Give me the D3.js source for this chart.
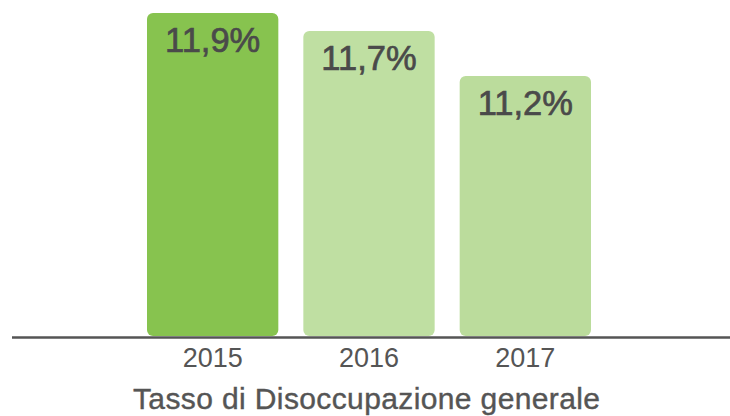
<!DOCTYPE html>
<html>
<head>
<meta charset="utf-8">
<script src="https://cdn.jsdelivr.net/npm/d3@7"></script>
<style>
  html, body { margin: 0; padding: 0; background: #ffffff; }
  svg { display: block; }
  text { font-family: "Liberation Sans", Arial, Helvetica, sans-serif; }
</style>
</head>
<body>
<svg id="chart" width="730" height="416"></svg>
<script>
const years = ["2015", "2016", "2017"];
const values = [11.9, 11.7, 11.2];
const valueLabels = ["11,9%", "11,7%", "11,2%"];
const barColors = ["#87c34f", "#bfdfa2", "#bbdc9c"];
const title = "Tasso di Disoccupazione generale";

const svg = d3.select("#chart");
const W = 730, H = 416;
const baseY = 336;

const x = d3.scaleBand().domain(years).range([147, 591]).paddingInner(0.16).paddingOuter(0);
const y = d3.scaleLinear().domain([8.31, 12.044]).range([baseY, 0]);

const data = years.map((yr, i) => ({ yr, v: values[i], label: valueLabels[i], color: barColors[i] }));

svg.append("g").selectAll("rect").data(data).join("rect")
  .attr("x", d => x(d.yr))
  .attr("y", d => y(d.v))
  .attr("width", x.bandwidth())
  .attr("height", d => baseY - y(d.v))
  .attr("rx", 6).attr("ry", 6)
  .attr("fill", d => d.color);

svg.append("g").selectAll("text").data(data).join("text")
  .attr("x", d => x(d.yr) + x.bandwidth() / 2)
  .attr("y", d => y(d.v) + 39)
  .attr("text-anchor", "middle")
  .attr("font-size", 34.5)
  .attr("fill", "#4a4a4a")
  .attr("stroke", "#4a4a4a")
  .attr("stroke-width", 0.7)
  .text(d => d.label);

// baseline
svg.append("line")
  .attr("x1", 12).attr("x2", W)
  .attr("y1", baseY + 1.5).attr("y2", baseY + 1.5)
  .attr("stroke", "#555555").attr("stroke-width", 2.5);

// x axis labels
const axis = d3.axisBottom(x).tickSize(0).tickPadding(0);
const gAxis = svg.append("g").attr("transform", `translate(0,${baseY})`).call(axis);
gAxis.select(".domain").remove();
gAxis.selectAll("text")
  .attr("y", 31).attr("dy", null)
  .attr("font-size", 27)
  .attr("font-family", "\"Liberation Sans\", Arial, sans-serif")
  .attr("fill", "#555555");

svg.append("text")
  .attr("x", 366.5).attr("y", 409)
  .attr("text-anchor", "middle")
  .attr("font-size", 30)
  .attr("fill", "#555555")
  .attr("stroke", "#555555")
  .attr("stroke-width", 0.4)
  .attr("textLength", 467)
  .attr("lengthAdjust", "spacing")
  .text(title);
</script>
</body>
</html>
